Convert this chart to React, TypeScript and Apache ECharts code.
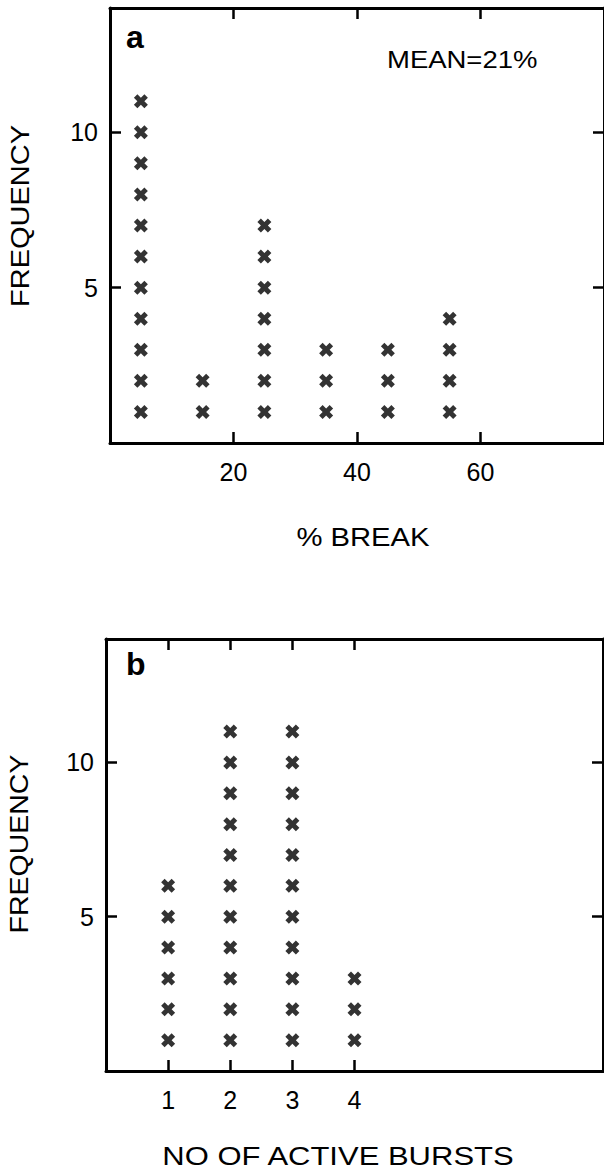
import React, { useEffect, useRef } from "react";
import * as echarts from "echarts";

// ---- data ----
const breakBins = [5, 15, 25, 35, 45, 55];
const breakCounts = [11, 2, 7, 3, 3, 4];
const breakTicks = [20, 40, 60];

const burstBins = [1, 2, 3, 4];
const burstCounts = [6, 11, 11, 3];
const burstTicks = [1, 2, 3, 4];

const freqTicks = [5, 10];

const meanText = "MEAN=21%";

const FONT = "'Liberation Sans', Arial, Helvetica, sans-serif";
const CROSS =
  "path://M0,2.5 L2.5,0 L5,2.5 L7.5,0 L10,2.5 L7.5,5 L10,7.5 L7.5,10 L5,7.5 L2.5,10 L0,7.5 L2.5,5 Z";

function stack(bins: number[], counts: number[]): number[][] {
  const out: number[][] = [];
  bins.forEach((b, i) => {
    for (let k = 1; k <= counts[i]; k++) out.push([b, k]);
  });
  return out;
}

function xAx(grid: number, pos: "top" | "bottom", max: number, interval: number, ticks: number[], labels: boolean) {
  return {
    type: "value",
    gridIndex: grid,
    position: pos,
    min: 0,
    max,
    interval,
    splitLine: { show: false },
    axisLine: { show: true, onZero: false, lineStyle: { color: "#000", width: 3 } },
    axisTick: {
      show: true,
      inside: true,
      length: 11,
      customValues: ticks,
      lineStyle: { color: "#000", width: 2.5 },
    },
    axisLabel: {
      show: labels,
      customValues: ticks,
      formatter: (v: number) => (ticks.indexOf(v) >= 0 ? String(v) : ""),
      color: "#000",
      fontSize: 25,
      fontFamily: FONT,
      margin: 16,
    },
  };
}

function yAx(grid: number, pos: "left" | "right", labels: boolean) {
  return {
    type: "value",
    gridIndex: grid,
    position: pos,
    min: 0,
    max: 14,
    interval: 5,
    splitLine: { show: false },
    axisLine: { show: true, onZero: false, lineStyle: { color: "#000", width: 3 } },
    axisTick: {
      show: true,
      inside: true,
      length: 11,
      customValues: freqTicks,
      lineStyle: { color: "#000", width: 2.5 },
    },
    axisLabel: {
      show: labels,
      customValues: freqTicks,
      formatter: (v: number) => (freqTicks.indexOf(v) >= 0 ? String(v) : ""),
      color: "#000",
      fontSize: 25,
      fontFamily: FONT,
      margin: 12,
    },
  };
}

function txt(text: string, x: number, y: number, size: number, sx: number, opts: any = {}) {
  return {
    type: "text",
    x,
    y,
    scaleX: sx,
    rotation: opts.rotation || 0,
    style: {
      text,
      x: 0,
      y: 0,
      fill: "#000",
      font: `${opts.bold ? "bold " : ""}${size}px ${FONT}`,
      align: opts.align || "center",
      verticalAlign: "middle",
    },
  };
}

export default function App() {
  const ref = useRef<HTMLDivElement>(null);
  useEffect(() => {
    if (!ref.current) return;
    const chart = echarts.init(ref.current, undefined, { renderer: "svg" });
    chart.setOption({
      animation: false,
      backgroundColor: "#fff",
      grid: [
        { left: 110, top: 8, width: 496, height: 435 },
        { left: 106, top: 639, width: 497, height: 432 },
      ],
      xAxis: [
        xAx(0, "bottom", 80, 20, breakTicks, true),
        xAx(0, "top", 80, 20, breakTicks, false),
        xAx(1, "bottom", 8, 1, burstTicks, true),
        xAx(1, "top", 8, 1, burstTicks, false),
      ],
      yAxis: [yAx(0, "left", true), yAx(0, "right", false), yAx(1, "left", true), yAx(1, "right", false)],
      series: [
        {
          type: "scatter",
          xAxisIndex: 0,
          yAxisIndex: 0,
          data: stack(breakBins, breakCounts),
          symbol: CROSS,
          symbolSize: 14,
          itemStyle: { color: "#000" },
        },
        {
          type: "scatter",
          xAxisIndex: 2,
          yAxisIndex: 2,
          data: stack(burstBins, burstCounts),
          symbol: CROSS,
          symbolSize: 14,
          itemStyle: { color: "#000" },
        },
      ],
      graphic: [
        txt("a", 126, 37, 32, 1, { bold: true, align: "left" }),
        txt("b", 126, 664, 32, 1, { bold: true, align: "left" }),
        txt(meanText, 387, 60, 24, 1.145, { align: "left" }),
        txt("% BREAK", 363, 537, 25, 1.17),
        txt("NO OF ACTIVE BURSTS", 338, 1157, 25, 1.24),
        txt("FREQUENCY", 20, 216, 25, 1.16, { rotation: Math.PI / 2 }),
        txt("FREQUENCY", 20, 844, 25, 1.14, { rotation: Math.PI / 2 }),
      ],
    });
    return () => chart.dispose();
  }, []);
  return (
    <div
      ref={ref}
      style={{ position: "absolute", left: 0, top: 0, width: 604, height: 1173, background: "#fff" }}
    />
  );
}
